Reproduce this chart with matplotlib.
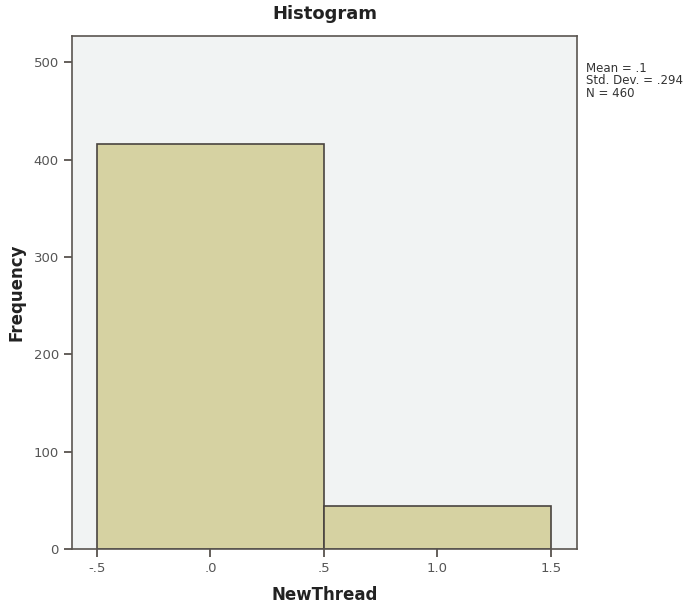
import matplotlib.pyplot as plt

# histogram of NewThread (0/1 variable)
bin_edges = [-0.5, 0.5, 1.5]
counts = [416, 44]
x_ticks = [-0.5, 0.0, 0.5, 1.0, 1.5]
x_tick_labels = ['-.5', '.0', '.5', '1.0', '1.5']
y_ticks = [0, 100, 200, 300, 400, 500]
stats_text = 'Mean = .1\nStd. Dev. = .294\nN = 460'

fig = plt.figure(figsize=(6.95, 6.04), dpi=100)
ax = fig.add_axes([0.1036, 0.0911, 0.7266, 0.8493])
ax.set_facecolor('#f1f3f3')

ax.hist(bin_edges[:-1], bins=bin_edges, weights=counts,
        color='#d6d2a2', edgecolor='#4a4440', linewidth=1.2)

ax.set_xlim(-0.61, 1.615)
ax.set_ylim(0, 527)
ax.set_xticks(x_ticks)
ax.set_xticklabels(x_tick_labels)
ax.set_yticks(y_ticks)

for s in ax.spines.values():
    s.set_color('#5a5550')
    s.set_linewidth(1.2)

ax.tick_params(axis='both', direction='out', length=6, width=1.2,
               color='#4a4440', labelcolor='#555555', labelsize=9.5)

ax.set_title('Histogram', fontsize=13, fontweight='bold', color='#222222', pad=12)
ax.set_xlabel('NewThread', fontsize=12, fontweight='bold', color='#222222', labelpad=8)
ax.set_ylabel('Frequency', fontsize=12, fontweight='bold', color='#222222', labelpad=6)

fig.text(0.843, 0.898, stats_text, fontsize=8.5, color='#333333',
         va='top', ha='left', linespacing=0.95)

fig.savefig('out.png', dpi=100)
